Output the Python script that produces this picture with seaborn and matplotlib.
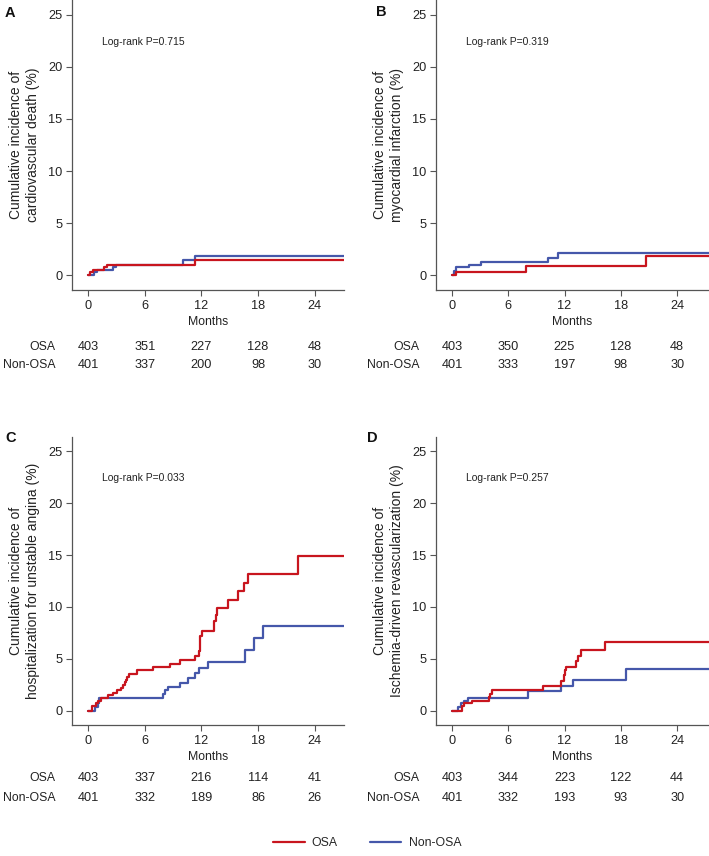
import pandas as pd
import matplotlib
matplotlib.use("Agg")
import matplotlib.pyplot as plt
import matplotlib.transforms as mtransforms
from matplotlib.lines import Line2D
import seaborn as sns

# Cumulative incidence step data (months, %)
END = 28.0

a_osa_t = [0, 0.2, 0.5, 1.7, 2.0, 11.3, END]
a_osa_y = [0, 0.25, 0.5, 0.75, 1.0, 1.4, 1.4]
a_non_t = [0, 0.6, 0.9, 2.6, 3.0, 10.0, 11.3, END]
a_non_y = [0, 0.25, 0.5, 0.75, 1.0, 1.4, 1.85, 1.85]

b_osa_t = [0, 0.4, 7.9, 20.7, END]
b_osa_y = [0, 0.25, 0.9, 1.85, 1.85]
b_non_t = [0, 0.25, 0.45, 1.8, 3.1, 10.2, 11.3, END]
b_non_y = [0, 0.4, 0.75, 1.0, 1.25, 1.65, 2.15, 2.15]

c_osa_t = [0, 0.45, 0.8, 1.1, 1.4, 2.1, 2.6, 3.1, 3.5, 3.7, 3.9, 4.0, 4.1, 4.3,
           5.2, 6.9, 8.7, 9.7, 11.3, 11.7, 11.9, 12.1, 13.3, 13.5, 13.7, 14.8,
           15.9, 16.5, 16.9, 22.2, END]
c_osa_y = [0, 0.5, 0.75, 1.0, 1.25, 1.5, 1.75, 2.0, 2.25, 2.5, 2.75, 3.0, 3.3, 3.6,
           3.9, 4.2, 4.5, 4.9, 5.3, 5.8, 7.2, 7.7, 8.7, 9.2, 9.95, 10.7,
           11.5, 12.3, 13.2, 14.9, 14.9]
c_non_t = [0, 0.7, 1.0, 1.2, 7.9, 8.1, 8.5, 9.7, 10.6, 11.3, 11.7, 12.7, 16.6,
           17.6, 18.5, END]
c_non_y = [0, 0.4, 0.8, 1.25, 1.65, 2.0, 2.3, 2.7, 3.15, 3.65, 4.15, 4.75, 5.85,
           7.0, 8.2, 8.2]

d_osa_t = [0, 1.1, 1.3, 2.1, 3.9, 4.1, 4.3, 9.7, 11.6, 11.9, 12.1, 12.2, 13.2,
           13.4, 13.8, 16.3, END]
d_osa_y = [0, 0.5, 0.8, 1.0, 1.3, 1.6, 2.05, 2.4, 2.9, 3.5, 3.9, 4.25, 4.8,
           5.3, 5.85, 6.65, 6.65]
d_non_t = [0, 0.6, 1.0, 1.3, 1.7, 8.1, 11.6, 12.9, 18.5, END]
d_non_y = [0, 0.4, 0.8, 1.0, 1.25, 1.9, 2.4, 3.0, 4.05, 4.05]

risk_months = [0, 6, 12, 18, 24]
a_risk_osa = [403, 351, 227, 128, 48]
a_risk_non = [401, 337, 200, 98, 30]
b_risk_osa = [403, 350, 225, 128, 48]
b_risk_non = [401, 333, 197, 98, 30]
c_risk_osa = [403, 337, 216, 114, 41]
c_risk_non = [401, 332, 189, 86, 26]
d_risk_osa = [403, 344, 223, 122, 44]
d_risk_non = [401, 332, 193, 93, 30]

panel_letters = ["A", "B", "C", "D"]
y_labels = [
    "Cumulative incidence of\ncardiovascular death (%)",
    "Cumulative incidence of\nmyocardial infarction (%)",
    "Cumulative incidence of\nhospitalization for unstable angina (%)",
    "Cumulative incidence of\nIschemia-driven revascularization (%)",
]
p_values = ["Log-rank P=0.715", "Log-rank P=0.319", "Log-rank P=0.033", "Log-rank P=0.257"]

groups = ["OSA", "Non-OSA"]
colors = {"OSA": "#C8151E", "Non-OSA": "#4557AA"}

sns.set_style("ticks")
plt.rcParams["font.family"] = ["Liberation Sans", "DejaVu Sans"]

TXT = "#222222"
W, H = 709, 856
fig = plt.figure(figsize=(W / 100, H / 100), dpi=100)

# axes boxes in pixels: left, top, right, bottom
boxes = [(72, 0, 344, 290), (436, 0, 709, 290), (72, 437, 344, 725), (436, 437, 709, 725)]
xlims = [(-1.7, 27.1), (-1.7, 27.4), (-1.7, 27.1), (-1.7, 27.4)]
ylims = [(-1.44, 26.44), (-1.44, 26.44), (-1.35, 26.35), (-1.35, 26.35)]
risk_rows = [(347, 365), (347, 365), (778, 798), (778, 798)]
letter_pos = [(5, 13), (376, 12), (5, 438), (367, 438)]

curves = [
    (a_osa_t, a_osa_y, a_non_t, a_non_y),
    (b_osa_t, b_osa_y, b_non_t, b_non_y),
    (c_osa_t, c_osa_y, c_non_t, c_non_y),
    (d_osa_t, d_osa_y, d_non_t, d_non_y),
]
risks = [
    (a_risk_osa, a_risk_non),
    (b_risk_osa, b_risk_non),
    (c_risk_osa, c_risk_non),
    (d_risk_osa, d_risk_non),
]

for i in range(4):
    l, t, r, b = boxes[i]
    ax = fig.add_axes([l / W, 1 - b / H, (r - l) / W, (b - t) / H])
    ot, oy, nt, ny = curves[i]
    df = pd.concat([
        pd.DataFrame({"month": ot, "inc": oy, "group": "OSA"}),
        pd.DataFrame({"month": nt, "inc": ny, "group": "Non-OSA"}),
    ])
    # draw non-OSA first so OSA sits on top
    sns.lineplot(data=df, x="month", y="inc", hue="group", hue_order=["Non-OSA", "OSA"],
                 palette=colors, drawstyle="steps-post", estimator=None, sort=False,
                 linewidth=1.6, legend=False, ax=ax)
    ax.set_xlim(*xlims[i])
    ax.set_ylim(*ylims[i])
    ax.set_xticks(risk_months)
    ax.set_yticks([0, 5, 10, 15, 20, 25])
    sns.despine(ax=ax)
    for sp in ["left", "bottom"]:
        ax.spines[sp].set_color("#555555")
        ax.spines[sp].set_linewidth(0.9)
    ax.tick_params(length=4, width=0.8, color="#555555", labelsize=9.2,
                   labelcolor=TXT, pad=3)
    ax.set_xlabel("Months", fontsize=8.8, color=TXT, labelpad=3)
    ax.set_ylabel(y_labels[i], fontsize=10, color=TXT, linespacing=1.3)
    ax.yaxis.label.set_va("center")
    ax.yaxis.set_label_coords(-47.5 / (r - l), 0.5)
    ax.text(1.5, 22.4, p_values[i], fontsize=7.5, color=TXT, va="center")

    # number at risk
    tr = mtransforms.blended_transform_factory(ax.transData, fig.transFigure)
    ro, rn = risks[i]
    yo, yn = risk_rows[i]
    for yy, lab, vals in [(yo, "OSA", ro), (yn, "Non-OSA", rn)]:
        ax.text(-3.5, 1 - yy / H, lab, transform=tr, ha="right", va="center",
                fontsize=8.8, color=TXT, clip_on=False)
        for m, v in zip(risk_months, vals):
            ax.text(m, 1 - yy / H, str(v), transform=tr, ha="center", va="center",
                    fontsize=9.2, color=TXT, clip_on=False)

    lx, ly = letter_pos[i]
    fig.text(lx / W, 1 - ly / H, panel_letters[i], fontsize=10.5, fontweight="bold",
             va="center", ha="left", color="#111111")

handles = [Line2D([], [], color=colors[g], linewidth=1.6) for g in groups]
fig.legend(handles, groups, loc="center", bbox_to_anchor=(367 / W, 1 - 843 / H),
           ncol=2, frameon=False, fontsize=8.8, handlelength=2.6, handletextpad=0.6,
           columnspacing=2.6)

fig.savefig("out.png", dpi=100)
